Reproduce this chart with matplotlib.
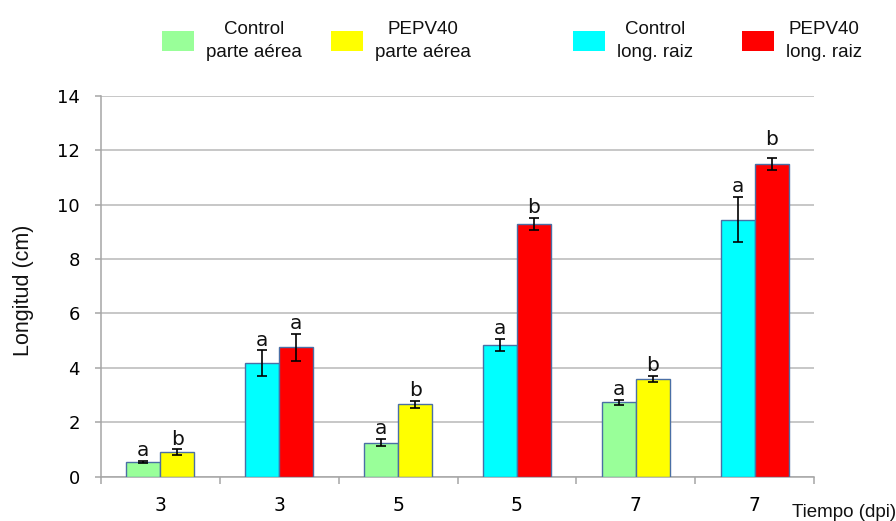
import matplotlib
matplotlib.use("Agg")
import matplotlib.pyplot as plt
import matplotlib.patches as mpatches
import numpy as np

# ---------------- data ----------------
tick_labels = ["3", "3", "5", "5", "7", "7"]
aerea_cat = [0, 2, 4]
raiz_cat = [1, 3, 5]

control_aerea = [0.54, 1.25, 2.73]
control_aerea_err = [0.03, 0.13, 0.09]
pepv_aerea = [0.90, 2.66, 3.59]
pepv_aerea_err = [0.10, 0.14, 0.11]

control_raiz = [4.17, 4.83, 9.44]
control_raiz_err = [0.47, 0.22, 0.83]
pepv_raiz = [4.76, 9.28, 11.49]
pepv_raiz_err = [0.50, 0.22, 0.21]

letters_control_aerea = ["a", "a", "a"]
letters_pepv_aerea = ["b", "b", "b"]
letters_control_raiz = ["a", "a", "a"]
letters_pepv_raiz = ["a", "b", "b"]

legend_labels = ["Control\nparte aérea", "PEPV40\nparte aérea",
                 "Control\nlong. raiz", "PEPV40\nlong. raiz"]
y_ticks = [0, 2, 4, 6, 8, 10, 12, 14]

# ---------------- style ----------------
c_green = "#99ff99"
c_yellow = "#ffff00"
c_cyan = "#00ffff"
c_red = "#ff0000"
edge = "#4a6fa5"
grid_c = "#bdbdbd"
W, H = 896, 521
letter_extra_pad = {(3, 2): 6.0}  # (series, item): extra offset in points

fig = plt.figure(figsize=(W / 100, H / 100), dpi=100)
ax = fig.add_axes([101 / W, (H - 476.7) / H, (814 - 101) / W, (476.7 - 95.7) / H])

bw = 0.286
x_a = np.array(aerea_cat, dtype=float)
x_r = np.array(raiz_cat, dtype=float)

series = [
    (x_a - bw / 2, control_aerea, control_aerea_err, c_green, letters_control_aerea),
    (x_a + bw / 2, pepv_aerea, pepv_aerea_err, c_yellow, letters_pepv_aerea),
    (x_r - bw / 2, control_raiz, control_raiz_err, c_cyan, letters_control_raiz),
    (x_r + bw / 2, pepv_raiz, pepv_raiz_err, c_red, letters_pepv_raiz),
]

for si, (xs, vals, errs, col, lets) in enumerate(series):
    ax.bar(xs, vals, width=bw, color=col, edgecolor=edge, linewidth=1.0, zorder=3)
    ax.errorbar(xs, vals, yerr=errs, fmt="none", ecolor="black",
                elinewidth=1.2, capsize=3.8, capthick=1.2, zorder=4)
    for ii, (xi, v, e, l) in enumerate(zip(xs, vals, errs, lets)):
        pad = 3.5 + letter_extra_pad.get((si, ii), 0.0)
        ax.annotate(l, (xi, v + e), xytext=(0, pad), textcoords="offset points",
                    ha="center", va="baseline", fontsize=14.5,
                    family="DejaVu Sans", color="#111111", zorder=5)

ax.set_xlim(-0.5, 5.5)
ax.set_ylim(0, 14)
ax.set_yticks(y_ticks)
ax.set_yticklabels([str(t) for t in y_ticks], fontsize=13, family="DejaVu Sans")
ax.set_xticks(range(len(tick_labels)))
ax.set_xticklabels(tick_labels, fontsize=13.5, family="DejaVu Sans")
ax.set_xticks(np.arange(-0.5, 6.0, 1.0), minor=True)
ax.tick_params(axis="x", which="major", length=0, pad=14)
ax.tick_params(axis="x", which="minor", length=5, width=1.1, color="#a6a6a6", direction="out")
ax.tick_params(axis="y", which="major", length=4.3, width=1.1, color="#a6a6a6", pad=11)

ax.yaxis.grid(True, color=grid_c, linewidth=1.2, zorder=0)
ax.set_axisbelow(True)
for s in ["top", "right"]:
    ax.spines[s].set_visible(False)
for s in ["left", "bottom"]:
    ax.spines[s].set_color("#a6a6a6")
    ax.spines[s].set_linewidth(1.1)

fig.text(23 / W, (H - 290) / H, "Longitud (cm)", rotation=90, ha="center", va="center",
         fontsize=15.5, family="Liberation Sans", color="#111111")
fig.text(792 / W, (H - 516.7) / H, "Tiempo (dpi)", ha="left", va="baseline",
         fontsize=13.5, family="Liberation Sans", color="#111111")

# ---------------- legend ----------------
fs = 13.5
fs_px = fs * 100 / 72
leg_cols = [c_green, c_yellow, c_cyan, c_red]
leg_x = [161.7, 330.7, 573, 742]
for col, lab, lx in zip(leg_cols, legend_labels, leg_x):
    h = mpatches.Patch(facecolor=col, edgecolor="none")
    leg = fig.legend(handles=[h], labels=[lab], loc="center left",
                     bbox_to_anchor=(lx / W, 1 - 41 / H), frameon=False,
                     borderpad=0, borderaxespad=0,
                     handlelength=32 / fs_px, handleheight=23 / fs_px,
                     handletextpad=12 / fs_px,
                     prop=dict(family="Liberation Sans", size=fs))
    for t in leg.get_texts():
        t.set_multialignment("center")
        t.set_linespacing(1.5)
        t.set_color("#111111")

fig.savefig("out.png", dpi=100)
